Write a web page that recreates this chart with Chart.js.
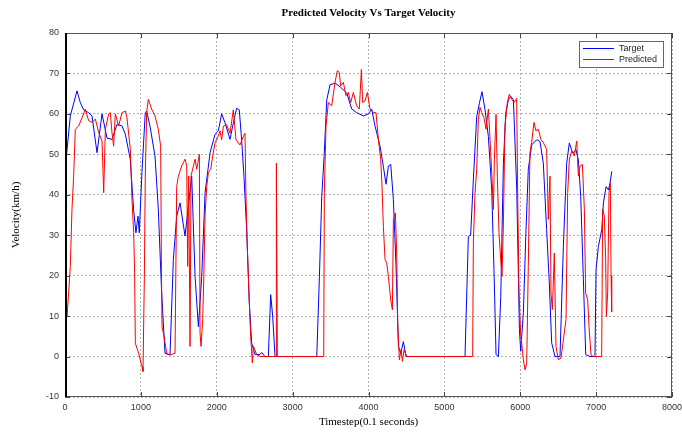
<!DOCTYPE html>
<html>
<head>
<meta charset="utf-8">
<script src="https://cdn.jsdelivr.net/npm/chart.js@4"></script>
<style>
  html, body { margin: 0; padding: 0; background: #fff; }
  #wrap { width: 682px; height: 433px; }
</style>
</head>
<body>
<div id="wrap"><canvas id="graph1"></canvas></div>
<script>
// values (timestep, km/h)
const targetX = [0, 70, 158, 202, 246, 312, 356, 422, 488, 554, 619, 685, 751, 795, 860, 904, 935, 962, 979, 1014,
  1058, 1076, 1120, 1186, 1230, 1274, 1318, 1384, 1428, 1472, 1516, 1582, 1626, 1670, 1714, 1758, 1802, 1846, 1912, 1978,
  2021, 2065, 2109, 2175, 2218, 2262, 2297, 2328, 2359, 2394, 2429, 2460, 2504, 2570, 2592, 2636, 2680, 2711, 2737, 2768,
  3318, 3353, 3384, 3415, 3450, 3494, 3560, 3626, 3714, 3779, 3845, 3933, 3998, 4042, 4086, 4152, 4196, 4231, 4262, 4293,
  4328, 4363, 4394, 4425, 4460, 4495, 5272, 5316, 5346, 5382, 5426, 5461, 5496, 5536, 5580, 5624, 5654, 5681, 5712, 5743,
  5778, 5809, 5844, 5875, 5910, 5954, 5989, 6006, 6041, 6076, 6106, 6150, 6216, 6260, 6304, 6348, 6383, 6414, 6458, 6524,
  6568, 6612, 6647, 6691, 6735, 6766, 6797, 6832, 6863, 6920, 6985, 6999, 7030, 7074, 7096, 7131, 7162, 7184, 7206];
const targetY = [46, 59.5, 65.7, 62.8, 61, 60.3, 59.5, 50.4, 60, 54, 53.7, 57.4, 57, 55, 48.8, 36.4, 30.6, 34.7, 30.6, 45.5,
  60.3, 60.7, 57, 49.6, 36.4, 15.7, 0.8, 0.4, 24, 34.7, 38, 29.8, 37.2, 44.6, 19.8, 7.4, 19.8, 40.5, 50.4, 55,
  55.8, 60, 57.8, 53.7, 57.7, 61.4, 61, 53.6, 44.5, 31.4, 13.3, 3.4, 0.5, 0.5, 1, 0, 0, 15.3, 10, 0,
  0, 19.8, 39.6, 49.5, 63.5, 67.2, 67.6, 66.7, 65.1, 61.2, 60.3, 59.5, 60, 61.2, 57, 52, 47, 42.6, 47.1, 47.5,
  38.8, 22.3, 2.5, 0.8, 3.7, 0, 0, 29.7, 30, 43.7, 59.3, 62.6, 65.5, 61, 54.4, 41.2, 21.5, 0.5, 0, 14.9,
  47.8, 60.2, 63.5, 64.3, 63.5, 41.2, 6.7, 1.3, 10.8, 31.4, 46.2, 52.3, 53.6, 53.2, 47.8, 31.4, 18.2, 3.4, 0, 0,
  27.2, 47.8, 52.8, 50.3, 51.1, 48.6, 39.6, 19, 0.5, 0, 0, 21.5, 27.2, 31.4, 38, 42, 41.2, 42.9, 45.8];

const predX = [0, 13, 26, 48, 70, 92, 114, 136, 180, 224, 268, 312, 356, 400, 444, 488, 510, 532, 575, 597,
  619, 641, 663, 707, 751, 795, 817, 861, 883, 905, 918, 927, 971, 1015, 1028, 1046, 1058, 1076, 1098, 1142,
  1186, 1230, 1261, 1270, 1279, 1305, 1340, 1384, 1450, 1472, 1494, 1538, 1582, 1604, 1617, 1630, 1648, 1661, 1692, 1714,
  1736, 1771, 1780, 1793, 1815, 1830, 1846, 1868, 1890, 1921, 1947, 1978, 2021, 2043, 2065, 2087, 2131, 2175, 2218, 2254,
  2306, 2350, 2372, 2385, 2403, 2429, 2447, 2469, 2482, 2526, 2570, 2781, 2786, 2799, 3410, 3418, 3440, 3471, 3515, 3559,
  3589, 3616, 3633, 3668, 3704, 3734, 3765, 3800, 3844, 3879, 3906, 3923, 3954, 3985, 4020, 4064, 4099, 4130, 4161, 4178,
  4196, 4218, 4240, 4262, 4293, 4315, 4328, 4354, 4372, 4385, 4407, 4429, 4447, 4469, 4504, 5373, 5382, 5404, 5426, 5448,
  5470, 5492, 5522, 5549, 5580, 5602, 5624, 5646, 5659, 5681, 5698, 5720, 5742, 5760, 5777, 5799, 5830, 5856, 5887, 5918,
  5953, 5966, 5984, 6005, 6041, 6063, 6085, 6106, 6128, 6150, 6181, 6207, 6238, 6273, 6304, 6348, 6370, 6392, 6405, 6423,
  6449, 6471, 6502, 6537, 6568, 6603, 6625, 6647, 6678, 6713, 6744, 6766, 6788, 6819, 6845, 6862, 6889, 6906, 6933, 6963,
  7073, 7086, 7108, 7126, 7135, 7152, 7170, 7187, 7197, 7205];
const predY = [35.5, 19.8, 9.9, 15.7, 22.3, 36.4, 44.6, 56.2, 57, 59, 61.2, 58.3, 57.9, 58.7, 55.4, 53.3, 40.5, 56.2, 60, 60.3,
  55.4, 52, 60, 57, 60.3, 60.7, 59, 51.2, 38.8, 30.6, 20.7, 3.3, 0.8, -2.5, -3.7, 19.8, 44.6, 60.3, 63.6, 61.2,
  59.5, 56.2, 52, 24, 7.4, 5, 0.8, 0.4, 0.8, 42, 44.6, 47.1, 48.8, 47.1, 22.3, 44.6, 2.5, 44.6, 47.1, 48.8,
  46.3, 50, 5.8, 2.5, 9.1, 20, 35, 42.1, 45.5, 46.3, 49.6, 52.9, 54.5, 55.8, 53.6, 57, 57.3, 55.2, 61, 53.6,
  52.3, 54.4, 55.2, 39.6, 27.2, 13.3, 5, -1.6, 2.6, 0.5, 0, 0, 47.8, 0, 0, 40.5, 57, 62.8, 62, 67.8,
  70.7, 70.2, 66.9, 67.8, 64.5, 65.3, 62.8, 65.3, 62, 61.2, 71, 62.8, 63.2, 65.3, 61.2, 60.3, 60.3, 53.7, 48.8, 42.1,
  32.2, 24, 23.1, 19.8, 14, 11.6, 33.9, 35.5, 25.6, 8.3, -0.8, 1.7, -1.2, 1.7, 0, 0, 28.1, 40.5, 46.3, 58.7,
  61.6, 60.3, 59, 56.2, 61.2, 53.7, 45.5, 36.4, 48.8, 59.9, 44.6, 30.6, 24, 19.8, 32.2, 57, 62.8, 64.9, 63.6, 62.8,
  63.8, 40.5, 15.7, 5.8, -0.8, -3.3, -1.7, 22.3, 50.4, 52.9, 57.9, 55.8, 56.2, 53.7, 52.9, 51.2, 33.9, 44.6, 15.7, 11.6,
  25.6, 2.5, -0.8, -0.4, 4.1, 9.1, 40.5, 48.8, 50.8, 49.6, 53.3, 44.6, 47.1, 47.5, 36.4, 15.7, 14, 7.4, 0.4, 0,
  0, 36.4, 34.7, 24, 9.9, 15.7, 40.5, 43, 20, 11];

const xTicks = [0, 1000, 2000, 3000, 4000, 5000, 6000, 7000, 8000];
const yTicks = [-10, 0, 10, 20, 30, 40, 50, 60, 70, 80];

const toPoints = (xs, ys) => xs.map((x, i) => ({ x: x, y: ys[i] }));

// matlab style frame: box, inward ticks, title, legend inside the axes
const matlabFrame = {
    id: 'matlabFrame',
    afterDraw(chart) {
        const { ctx, chartArea: a, scales } = chart;
        ctx.save();
        ctx.strokeStyle = '#444';
        ctx.lineWidth = 1;
        ctx.beginPath();
        xTicks.forEach(v => {
            const px = Math.round(scales.x.getPixelForValue(v)) + 0.5;
            ctx.moveTo(px, a.bottom); ctx.lineTo(px, a.bottom - 5);
            ctx.moveTo(px, a.top); ctx.lineTo(px, a.top + 5);
        });
        yTicks.forEach(v => {
            const py = Math.round(scales.y.getPixelForValue(v)) + 0.5;
            ctx.moveTo(a.left, py); ctx.lineTo(a.left + 5, py);
            ctx.moveTo(a.right, py); ctx.lineTo(a.right - 5, py);
        });
        ctx.stroke();
        ctx.strokeStyle = '#555';
        ctx.strokeRect(a.left + 0.5, a.top + 0.5, a.right - a.left - 1, a.bottom - a.top - 1);
        ctx.strokeStyle = '#000';
        ctx.lineWidth = 2;
        ctx.beginPath();
        ctx.moveTo(a.left + 1, a.top); ctx.lineTo(a.left + 1, a.bottom);
        ctx.stroke();

        // title
        ctx.fillStyle = '#000';
        ctx.font = 'bold 11px "Liberation Serif", "DejaVu Serif", serif';
        ctx.textAlign = 'center';
        ctx.textBaseline = 'middle';
        ctx.fillText('Predicted Velocity Vs Target Velocity', (a.left + a.right) / 2, 13);

        // legend
        const lx = 579, ly = 41, lw = 84, lh = 26;
        ctx.fillStyle = '#fff';
        ctx.fillRect(lx, ly, lw, lh);
        ctx.lineWidth = 1;
        ctx.strokeStyle = '#666';
        ctx.strokeRect(lx + 0.5, ly + 0.5, lw, lh);
        const items = [['Target', '#0000ff'], ['Predicted', '#ff0000']];
        ctx.font = '9px "Liberation Sans", Arial, sans-serif';
        ctx.textAlign = 'left';
        items.forEach((it, i) => {
            const yy = ly + 7.5 + i * 11;
            ctx.strokeStyle = it[1];
            ctx.beginPath();
            ctx.moveTo(lx + 4, yy); ctx.lineTo(lx + 35, yy);
            ctx.stroke();
            ctx.fillStyle = '#222';
            ctx.fillText(it[0], lx + 40, yy);
        });
        ctx.restore();
    }
};

const config = {
    type: 'line',
    data: {
        datasets: [
            {
                label: 'Target',
                data: toPoints(targetX, targetY),
                borderColor: '#0000ff',
                borderWidth: 1,
                pointRadius: 0,
                order: 1
            },
            {
                label: 'Predicted',
                data: toPoints(predX, predY),
                borderColor: '#ff0000',
                borderWidth: 1,
                pointRadius: 0,
                order: 0
            }
        ]
    },
    options: {
        responsive: true,
        maintainAspectRatio: false,
        animation: false,
        layout: { padding: { top: 33, right: 0, bottom: 0, left: 0 } },
        scales: {
            x: {
                type: 'linear',
                min: 0,
                max: 8000,
                afterFit: s => { s.height = 36; s.paddingRight = 10; },
                afterBuildTicks: s => { s.ticks = xTicks.map(v => ({ value: v })); },
                grid: { color: '#b0b0b0', drawTicks: false },
                border: { display: false, dash: [2, 2] },
                ticks: {
                    padding: 5,
                    color: '#333',
                    callback: v => String(v),
                    font: { family: '"Liberation Sans", Arial, sans-serif', size: 9 }
                },
                title: {
                    display: true,
                    text: 'Timestep(0.1 seconds)',
                    color: '#000',
                    padding: { top: 0, bottom: 4 },
                    font: { family: '"Liberation Serif", "DejaVu Serif", serif', size: 11 }
                }
            },
            y: {
                min: -10,
                max: 80,
                afterFit: s => { s.width = 65; },
                afterBuildTicks: s => { s.ticks = yTicks.map(v => ({ value: v })); },
                grid: { color: '#b0b0b0', drawTicks: false },
                border: { display: false, dash: [2, 2] },
                ticks: {
                    padding: 6,
                    color: '#333',
                    font: { family: '"Liberation Sans", Arial, sans-serif', size: 9 }
                },
                title: {
                    display: true,
                    text: 'Velocity(km/h)',
                    color: '#000',
                    padding: { top: 10, bottom: 0 },
                    font: { family: '"Liberation Serif", "DejaVu Serif", serif', size: 11 }
                }
            }
        },
        plugins: {
            legend: { display: false },
            title: { display: false },
            tooltip: { enabled: false }
        }
    },
    plugins: [matlabFrame]
};

const myChart = new Chart(document.getElementById('graph1'), config);
</script>
</body>
</html>
